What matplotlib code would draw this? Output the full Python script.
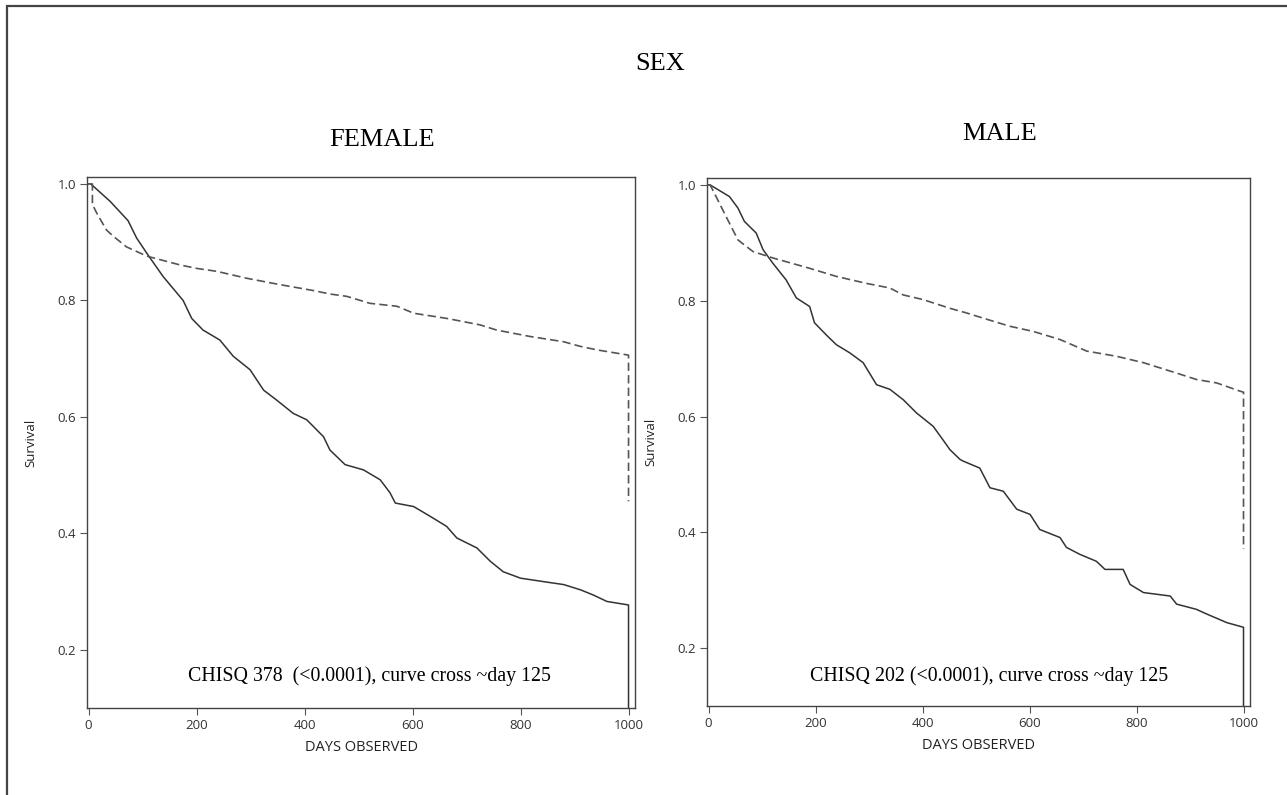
import matplotlib.pyplot as plt
from matplotlib.patches import Rectangle

plt.rcParams['font.family'] = ['Open Sans', 'DejaVu Sans']

# Kaplan-Meier curves (days, survival)
female_solid_t = [0, 4, 40, 73, 89, 110, 138, 175, 191, 212, 243, 268, 299, 324, 348, 379,
                  404, 435, 447, 475, 509, 540, 558, 568, 602, 633, 663, 682, 719, 744,
                  768, 800, 843, 880, 911, 935, 960, 1000, 1000]
female_solid_s = [1.0, 1.0, 0.970, 0.937, 0.907, 0.878, 0.841, 0.800, 0.769, 0.749, 0.732,
                  0.704, 0.681, 0.646, 0.629, 0.606, 0.595, 0.566, 0.543, 0.518, 0.509,
                  0.492, 0.470, 0.452, 0.446, 0.429, 0.412, 0.392, 0.375, 0.352, 0.334,
                  0.323, 0.317, 0.312, 0.303, 0.294, 0.283, 0.277, 0.05]
female_dash_t = [4, 7, 7, 15, 33, 46, 70, 108, 169, 200, 237, 293, 355, 416, 447, 478, 521,
                 571, 602, 664, 725, 756, 818, 880, 911, 942, 1000, 1000]
female_dash_s = [1.0, 1.0, 0.965, 0.950, 0.921, 0.910, 0.892, 0.876, 0.861, 0.855, 0.850,
                 0.838, 0.827, 0.817, 0.811, 0.807, 0.795, 0.790, 0.778, 0.769, 0.758,
                 0.749, 0.738, 0.729, 0.721, 0.715, 0.706, 0.455]

male_solid_t = [0, 3, 39, 55, 67, 89, 102, 120, 145, 164, 189, 198, 220, 239, 264, 289,
                314, 339, 364, 389, 420, 438, 451, 470, 476, 507, 526, 551, 576, 601,
                619, 657, 669, 694, 725, 741, 775, 788, 813, 863, 875, 912, 931, 969,
                1000, 1000]
male_solid_s = [1.0, 1.0, 0.980, 0.960, 0.937, 0.917, 0.888, 0.865, 0.836, 0.805, 0.790,
                0.762, 0.741, 0.724, 0.710, 0.693, 0.655, 0.647, 0.629, 0.606, 0.583,
                0.560, 0.543, 0.526, 0.523, 0.511, 0.477, 0.471, 0.440, 0.431, 0.405,
                0.391, 0.374, 0.362, 0.350, 0.336, 0.336, 0.310, 0.296, 0.290, 0.276,
                0.267, 0.259, 0.244, 0.236, 0.05]
male_dash_t = [0, 3, 14, 33, 55, 83, 120, 189, 239, 295, 339, 364, 401, 451, 482, 513,
               563, 607, 657, 707, 763, 813, 875, 912, 950, 993, 1000, 1000]
male_dash_s = [1.0, 1.0, 0.980, 0.945, 0.905, 0.885, 0.874, 0.856, 0.842, 0.830, 0.822,
               0.810, 0.802, 0.787, 0.779, 0.770, 0.756, 0.747, 0.733, 0.713, 0.704,
               0.693, 0.675, 0.664, 0.658, 0.644, 0.642, 0.371]

panels = [
    ("FEMALE", female_solid_t, female_solid_s, female_dash_t, female_dash_s,
     "CHISQ 378  (<0.0001), curve cross ~day 125"),
    ("MALE", male_solid_t, male_solid_s, male_dash_t, male_dash_s,
     "CHISQ 202 (<0.0001), curve cross ~day 125"),
]
xticks = [0, 200, 400, 600, 800, 1000]
yticks = [0.2, 0.4, 0.6, 0.8, 1.0]

fig = plt.figure(figsize=(12.87, 7.95), dpi=100)
fig.patches.append(Rectangle((0.0054, -0.05), 1.2, 1.043, transform=fig.transFigure,
                             fill=False, edgecolor='#444444', linewidth=1.6))

positions = [[0.0676, 0.1094, 0.4258, 0.668], [0.5493, 0.1119, 0.4219, 0.6642]]
title_pos = [(0.297, 0.824), (0.777, 0.831)]
note_pos = [(0.515, 0.051), (0.519, 0.047)]

for i, (name, st, ss, dt, ds, note) in enumerate(panels):
    ax = fig.add_axes(positions[i])
    ax.plot(st, ss, color='#333333', linewidth=1.1)
    ax.plot(dt, ds, color='#555555', linewidth=1.2, linestyle=(0, (5, 2.5)))
    ax.set_xlim(-3, 1012)
    ax.set_ylim(0.1, 1.012)
    ax.set_xticks(xticks)
    ax.set_yticks(yticks)
    ax.set_yticklabels([f"{v:.1f}" for v in yticks])
    ax.tick_params(direction='out', length=5, width=0.8, color='#555555',
                   labelsize=9.5, labelcolor='#333333', pad=3)
    for sp in ax.spines.values():
        sp.set_color('#444444')
        sp.set_linewidth(1.0)
    ax.set_xlabel("DAYS OBSERVED", fontsize=10.5, color='#222222', labelpad=6)
    ax.set_ylabel("Survival", fontsize=9.5, color='#222222')
    ax.yaxis.set_label_coords(-0.091, 0.5)
    ax.text(note_pos[i][0], note_pos[i][1], note, transform=ax.transAxes,
            ha='center', va='baseline', fontsize=14.3, family='Liberation Serif')
    fig.text(title_pos[i][0], title_pos[i][1], name, ha='center', va='center',
             fontsize=19, family='Liberation Serif')

fig.text(0.513, 0.919, "SEX", ha='center', va='center', fontsize=19,
         family='Liberation Serif')

fig.savefig("out.png", dpi=100)
